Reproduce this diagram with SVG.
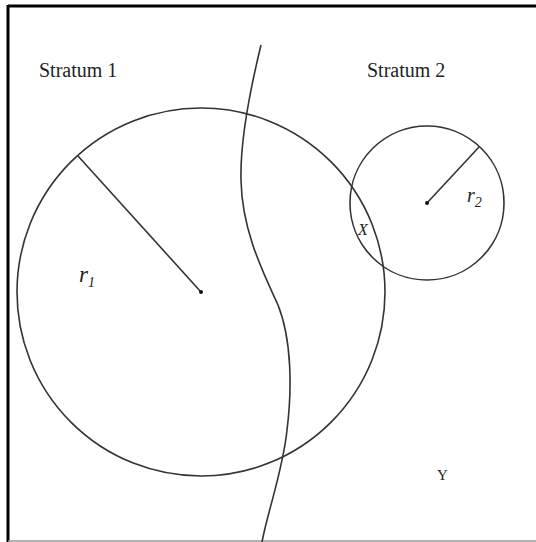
<svg xmlns="http://www.w3.org/2000/svg" width="536" height="542" viewBox="0 0 536 542">
<style>
.ln{fill:none;stroke:#333;stroke-width:1.6}
.t{font-family:"Liberation Serif",serif;fill:#222}
</style>
<rect x="0" y="0" width="536" height="542" fill="#fff"/>
<g id="frame">
<line x1="8" y1="6" x2="536" y2="6" stroke="#000" stroke-width="3"/>
<line x1="8" y1="5" x2="8" y2="542" stroke="#000" stroke-width="3"/>
<line x1="8" y1="541" x2="536" y2="541" stroke="#999" stroke-width="1.5"/>
</g>
<g id="stratum1">
<circle class="ln" cx="201" cy="292" r="184"/>
<line class="ln" x1="78" y1="156" x2="201" y2="292"/>
<circle cx="201" cy="292" r="2" fill="#111"/>
<text class="t" x="39" y="77" font-size="20">Stratum 1</text>
<text class="t" x="79" y="282" font-size="23" font-style="italic">r<tspan font-size="14" dy="5">1</tspan></text>
</g>
<g id="stratum2">
<circle class="ln" cx="427" cy="203" r="77"/>
<line class="ln" x1="427" y1="203" x2="479" y2="147"/>
<circle cx="427" cy="203" r="2" fill="#111"/>
<text class="t" x="367" y="77" font-size="20">Stratum 2</text>
<text class="t" x="467" y="202" font-size="20" font-style="italic">r<tspan font-size="14" dy="5">2</tspan></text>
</g>
<g id="connectors">
<path class="ln" d="M261,45 C250,90 240,140 241,180 C242,230 262,270 278,305 C292,340 292,390 287,430 C283,470 268,510 262,542"/>
</g>
<g id="labels">
<text class="t" x="358" y="235" font-size="16" font-style="italic">X</text>
<text class="t" x="437" y="480" font-size="15">Y</text>
</g>
</svg>
